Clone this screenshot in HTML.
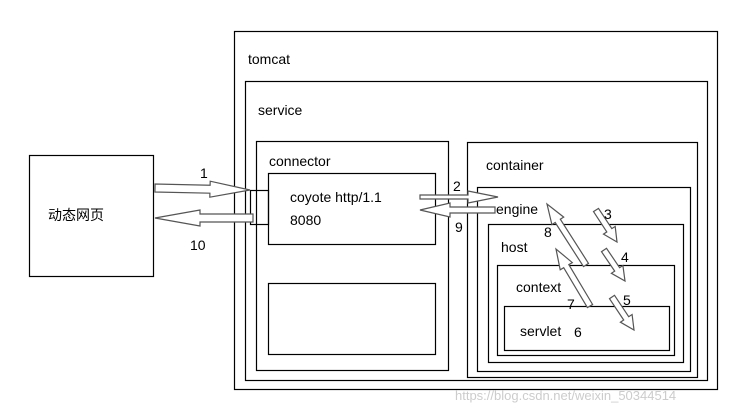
<!DOCTYPE html>
<html><head><meta charset="utf-8"><style>
body{margin:0;width:732px;height:408px;background:#fff;overflow:hidden}
svg{display:block}
text{font-family:"Liberation Sans","Noto Sans CJK SC",sans-serif;font-size:14px;fill:#000}
</style></head><body>
<svg id="s" width="732" height="408" xmlns="http://www.w3.org/2000/svg">
<g fill="none" stroke="#000" stroke-width="1.2">
<rect x="234.5" y="31.5" width="483" height="358"/>
<rect x="245.5" y="81.5" width="462" height="299"/>
<rect x="256.5" y="141.5" width="192" height="229"/>
<rect x="268.5" y="173.5" width="167" height="71"/>
<rect x="268.5" y="283.5" width="167" height="71"/>
<rect x="250.5" y="190.5" width="18" height="34"/>
<rect x="467.5" y="142.5" width="230" height="235"/>
<rect x="477.5" y="187.5" width="213" height="184"/>
<rect x="488.5" y="224.5" width="195" height="138"/>
<rect x="497.5" y="265.5" width="177" height="90"/>
<rect x="504.5" y="306.5" width="165" height="44"/>
<rect x="29.5" y="155.5" width="124" height="121"/>
</g>
<g id="arrows" fill="#fff" stroke="#555" stroke-width="1.2"></g>
<text x="248" y="64">tomcat</text>
<text x="258" y="115">service</text>
<text x="269" y="166">connector</text>
<text x="290" y="202">coyote http/1.1</text>
<text x="290" y="225">8080</text>
<text x="486" y="170">container</text>
<text x="496" y="214">engine</text>
<text x="501" y="252">host</text>
<text x="516" y="292">context</text>
<text x="520" y="336">servlet</text>
<text x="574" y="337">6</text>
<text x="48" y="220">动态网页</text>
<text x="200" y="178">1</text>
<text x="190" y="250">10</text>
<text x="453" y="191">2</text>
<text x="455" y="232">9</text>
<text x="604" y="219">3</text>
<text x="621" y="262">4</text>
<text x="623" y="305">5</text>
<text x="544" y="237">8</text>
<text x="567" y="309">7</text>
<text x="455" y="400" style="fill:#ccc;font-size:13px">https://blog.csdn.net/weixin_50344514</text>
</svg>
<script>
var g=document.getElementById('arrows');
function arr(x1,y1,x2,y2,sw,hw,hl){
 var dx=x2-x1,dy=y2-y1,L=Math.hypot(dx,dy),ux=dx/L,uy=dy/L,nx=-uy,ny=ux;
 var bx=x2-ux*hl,by=y2-uy*hl;
 var p=[[x1+nx*sw,y1+ny*sw],[bx+nx*sw,by+ny*sw],[bx+nx*hw,by+ny*hw],[x2,y2],[bx-nx*hw,by-ny*hw],[bx-nx*sw,by-ny*sw],[x1-nx*sw,y1-ny*sw]];
 var e=document.createElementNS('http://www.w3.org/2000/svg','polygon');
 e.setAttribute('points',p.map(function(q){return q[0].toFixed(1)+','+q[1].toFixed(1)}).join(' '));
 g.appendChild(e);
}
arr(155,188,250,190,4,8,40);
arr(253,218,155,218,4,8,45);
arr(420,197,498,197,2,6,30);
arr(495,210,420,210,3,7,30);
arr(596,210,617,242,3,7,14);
arr(604,250,625,281,3,7,14);
arr(612,297,634,330,3,7,14);
arr(586,265,547,204,3,7,20);
arr(590,306,556,249,3,7,20);
</script>
</body></html>
